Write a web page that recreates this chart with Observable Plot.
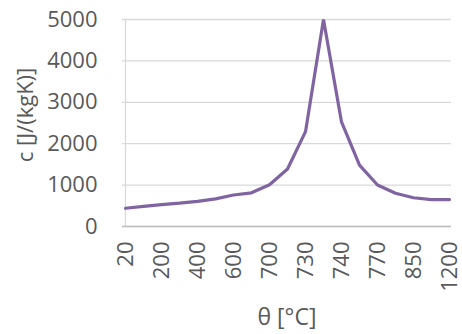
<!DOCTYPE html>
<html>
<head>
<meta charset="utf-8">
<script src="https://cdn.jsdelivr.net/npm/d3@7"></script>
<script src="https://cdn.jsdelivr.net/npm/@observablehq/plot@0.6"></script>
<style>
  body { margin: 0; background: #fff; }
  #chart svg { display: block; }
</style>
</head>
<body>
<div id="chart"></div>
<script>
const temps = ["20","100","200","300","400","500","600","650","700","720","730","735","740","750","770","800","850","900","1200"];
const cValues = [440, 488, 530, 565, 606, 667, 760, 814, 1008, 1388, 2291, 5000, 2525, 1483, 1002, 803, 695, 650, 650];
const xTickLabels = ["20","200","400","600","700","730","740","770","850","1200"];
const yTicks = [0, 1000, 2000, 3000, 4000, 5000];
const xTitle = "θ [°C]";
const yTitle = "c [J/(kgK)]";

const data = temps.map((t, i) => ({t, c: cValues[i]}));

const chart = Plot.plot({
  width: 462,
  height: 334,
  marginLeft: 122,
  marginRight: 11,
  marginTop: 19,
  marginBottom: 108,
  style: {fontFamily: "'Open Sans', sans-serif", fontSize: "22px", color: "#595959", background: "#fff"},
  x: {type: "point", domain: temps, padding: 0},
  y: {domain: [0, 5000]},
  marks: [
    Plot.gridY(yTicks, {stroke: "#d9d9d9", strokeOpacity: 1, strokeWidth: 1.3}),
    Plot.ruleX([temps[0]], {stroke: "#d9d9d9", strokeWidth: 1.3}),
    Plot.ruleY([0], {stroke: "#bfbfbf", strokeWidth: 1.3}),
    Plot.axisY(yTicks, {tickSize: 0, tickPadding: 25, tickFormat: d => String(d), label: null, fill: "#595959", fontSize: 22}),
    Plot.axisX(xTickLabels, {tickSize: 0, tickPadding: 15, tickRotate: -90, label: null, fill: "#595959", fontSize: 22}),
    Plot.line(data, {x: "t", y: "c", stroke: "#8064A2", strokeWidth: 3.2, strokeLinejoin: "miter"}),
    Plot.text([xTitle], {frameAnchor: "bottom", dy: 91, textAnchor: "middle", lineAnchor: "middle", fill: "#595959", fontSize: 23}),
    Plot.text([yTitle], {frameAnchor: "left", dx: -97, dy: -8, textAnchor: "middle", lineAnchor: "middle", rotate: -90, fill: "#595959", fontSize: 22})
  ]
});
document.getElementById("chart").appendChild(chart);
</script>
</body>
</html>
